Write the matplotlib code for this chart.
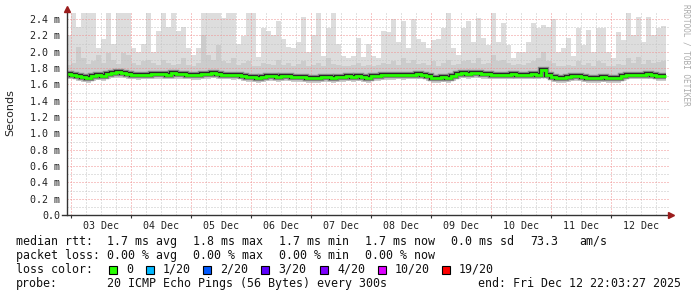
import numpy as np
import matplotlib.pyplot as plt

# 2-hour bins, last one ends at Dec 12 22:03 (hours counted from Dec 3 00:00)
bin_hours = 2.0
end_hour = 238.05

# median rtt per bin (ms)
med = [1.73, 1.72, 1.70, 1.69, 1.68, 1.70, 1.71, 1.70, 1.73, 1.74,
       1.75, 1.74, 1.73, 1.72, 1.71, 1.72, 1.72, 1.73, 1.73, 1.73,
       1.72, 1.74, 1.73, 1.73, 1.72, 1.71, 1.71, 1.73, 1.73, 1.74,
       1.73, 1.72, 1.72, 1.71, 1.72, 1.70, 1.69, 1.69, 1.68, 1.69,
       1.70, 1.70, 1.69, 1.70, 1.70, 1.69, 1.69, 1.69, 1.68, 1.68,
       1.68, 1.69, 1.69, 1.68, 1.69, 1.69, 1.70, 1.69, 1.70, 1.69,
       1.68, 1.70, 1.70, 1.71, 1.71, 1.71, 1.72, 1.71, 1.72, 1.72,
       1.73, 1.72, 1.70, 1.68, 1.68, 1.69, 1.68, 1.70, 1.73, 1.74,
       1.73, 1.74, 1.74, 1.73, 1.73, 1.72, 1.72, 1.72, 1.72, 1.73,
       1.72, 1.72, 1.72, 1.73, 1.72, 1.78, 1.72, 1.69, 1.68, 1.68,
       1.69, 1.70, 1.70, 1.69, 1.68, 1.68, 1.68, 1.69, 1.68, 1.68,
       1.68, 1.70, 1.72, 1.72, 1.72, 1.72, 1.73, 1.72, 1.70, 1.70]

# highest ping per bin (outer smoke)
top = [2.20, 2.55, 2.30, 2.55, 2.55, 2.55, 2.05, 2.15, 2.55, 2.10,
       2.55, 2.55, 2.55, 2.05, 2.00, 2.10, 2.55, 2.00, 2.25, 2.55,
       2.30, 2.55, 2.25, 2.30, 2.05, 1.96, 2.05, 2.55, 2.55, 2.55,
       2.55, 2.41, 2.55, 2.55, 2.09, 2.19, 2.55, 2.55, 1.94, 2.29,
       2.25, 2.20, 2.37, 2.15, 2.06, 2.04, 2.12, 2.43, 2.00, 2.20,
       2.55, 1.95, 2.29, 2.55, 2.10, 1.95, 1.92, 1.95, 2.17, 1.94,
       2.10, 1.95, 1.92, 2.25, 2.24, 2.40, 2.12, 2.37, 2.05, 2.40,
       2.15, 2.12, 2.05, 2.14, 2.15, 2.29, 2.55, 2.05, 1.96, 2.29,
       2.37, 2.12, 2.41, 2.17, 2.08, 2.55, 2.12, 2.35, 2.08, 1.92,
       2.00, 2.00, 2.12, 2.35, 2.29, 2.33, 2.30, 2.40, 2.00, 2.05,
       2.17, 1.95, 2.29, 2.08, 2.27, 2.00, 2.29, 2.29, 2.00, 1.92,
       2.24, 2.14, 2.55, 2.21, 2.43, 2.12, 2.43, 2.21, 2.29, 2.31]

# upper edge of the denser inner smoke
mid = [1.84, 1.86, 2.06, 1.92, 1.85, 1.88, 1.96, 1.86, 1.98, 1.90,
       1.85, 1.98, 1.96, 1.86, 1.84, 1.88, 1.90, 1.86, 1.84, 1.90,
       1.86, 1.84, 1.85, 1.92, 1.84, 1.82, 1.86, 2.20, 1.96, 1.90,
       2.08, 1.88, 1.86, 1.92, 1.84, 1.86, 1.88, 1.83, 1.82, 1.86,
       1.85, 1.84, 1.90, 1.84, 1.86, 1.83, 1.85, 1.88, 1.82, 1.84,
       1.86, 1.83, 1.92, 1.85, 1.84, 1.82, 1.83, 1.84, 1.86, 1.82,
       1.84, 1.83, 1.84, 1.86, 1.85, 1.88, 1.84, 1.92, 1.86, 1.90,
       1.85, 1.86, 1.84, 1.88, 1.83, 1.86, 1.90, 1.84, 1.85, 1.88,
       1.90, 1.86, 1.92, 1.85, 1.86, 1.96, 1.88, 1.90, 1.86, 1.84,
       1.85, 1.84, 1.86, 1.88, 1.92, 2.00, 1.88, 1.86, 1.82, 1.83,
       1.84, 1.82, 1.88, 1.84, 1.86, 1.83, 1.88, 1.86, 1.83, 1.82,
       1.85, 1.84, 1.92, 1.86, 1.94, 1.85, 1.90, 1.86, 1.87, 1.88]

# lowest ping per bin
low = [1.67, 1.66, 1.64, 1.63, 1.62, 1.64, 1.65, 1.64, 1.67, 1.68,
       1.68, 1.68, 1.67, 1.66, 1.65, 1.66, 1.66, 1.67, 1.67, 1.67,
       1.66, 1.67, 1.67, 1.67, 1.66, 1.65, 1.65, 1.67, 1.67, 1.68,
       1.67, 1.66, 1.66, 1.65, 1.66, 1.64, 1.63, 1.63, 1.62, 1.63,
       1.64, 1.64, 1.63, 1.64, 1.64, 1.63, 1.63, 1.63, 1.62, 1.62,
       1.62, 1.63, 1.63, 1.62, 1.63, 1.63, 1.64, 1.63, 1.64, 1.63,
       1.62, 1.64, 1.64, 1.65, 1.65, 1.65, 1.66, 1.65, 1.66, 1.66,
       1.67, 1.66, 1.64, 1.62, 1.62, 1.63, 1.62, 1.64, 1.67, 1.68,
       1.67, 1.68, 1.68, 1.67, 1.67, 1.66, 1.66, 1.66, 1.66, 1.67,
       1.66, 1.66, 1.66, 1.67, 1.66, 1.69, 1.66, 1.63, 1.62, 1.62,
       1.63, 1.64, 1.64, 1.63, 1.62, 1.62, 1.62, 1.63, 1.62, 1.62,
       1.62, 1.64, 1.66, 1.66, 1.66, 1.66, 1.67, 1.66, 1.64, 1.64]

day_labels = ['03 Dec', '04 Dec', '05 Dec', '06 Dec', '07 Dec',
              '08 Dec', '09 Dec', '10 Dec', '11 Dec', '12 Dec']
y_ticks = [0.0, 0.2, 0.4, 0.6, 0.8, 1.0, 1.2, 1.4, 1.6, 1.8, 2.0, 2.2, 2.4]

loss_names = ['0', '1/20', '2/20', '3/20', '4/20', '10/20', '19/20']
loss_colors = ['#26ff00', '#00b8ff', '#0059ff', '#5e00ff', '#7e00ff', '#dd00ff', '#ff0000']

W, H = 697, 297
MONO = 'DejaVu Sans Mono'


def hx(p):
    # pixel column -> hours since Dec 3 00:00
    return (p - 70.7) / 2.5


fig = plt.figure(figsize=(W / 100, H / 100), dpi=100)
fig.patch.set_facecolor('white')
ax = fig.add_axes([67 / W, (H - 215) / H, 602 / W, (215 - 13.3) / H])
ax.set_xlim(hx(67), hx(669))
ax.set_ylim(0, 2.47)

n = len(med)
edges = end_hour - bin_hours * n + bin_hours * np.arange(n + 1)

# smoke
ax.stairs(top, edges, baseline=low, fill=True, color='#dddddd', lw=0, zorder=1)
ax.stairs(mid, edges, baseline=low, fill=True, color='#cccccc', lw=0, zorder=1.1)

# grid
for h in range(0, 240, 6):
    major = h % 24 == 0
    ax.axvline(h, color='#f09090' if major else '#c4c4c4', lw=0.72,
               ls=(0, (1, 2)), zorder=2)
for i in range(1, 25):
    major = i % 2 == 0
    ax.axhline(i / 10, color='#f09090' if major else '#c4c4c4', lw=0.72,
               ls=(0, (1, 2)), zorder=2)

# median line
ax.stairs(med, edges, baseline=None, color='#8a8a8a', lw=4.6, zorder=3)
ax.stairs(med, edges, baseline=None, color='#2a2a2a', lw=3.0, zorder=3.1)
ax.stairs(med, edges, baseline=None, color=loss_colors[0], lw=2.0, zorder=3.2)

# axes lines and arrows
for s in ['top', 'right', 'bottom', 'left']:
    ax.spines[s].set_visible(False)
ax.plot([hx(67), hx(67)], [0, 2.52], color='#333333', lw=1, clip_on=False, zorder=4)
ax.plot([hx(62), hx(669)], [0, 0], color='#333333', lw=1, clip_on=False, zorder=4)
ax.plot(hx(67), 2.52, marker='^', ms=4.5, color='#9b1c1c', clip_on=False, zorder=5)
ax.plot(hx(671), 0, marker='>', ms=4.5, color='#9b1c1c', clip_on=False, zorder=5)

ax.set_yticks(y_ticks)
ax.set_yticklabels(['0.0'] + ['%.1f m' % v for v in y_ticks[1:]],
                   family=MONO, fontsize=7.2, color='#222222')
ax.tick_params(axis='y', length=0, pad=5)

ax.set_xticks([24 * d for d in range(10)])
ax.set_xticklabels([])
ax.tick_params(axis='x', which='major', length=2, color='#333333')
ax.set_xticks([12 + 24 * d for d in range(10)], minor=True)
ax.set_xticklabels(day_labels, minor=True, family=MONO, fontsize=7.2, color='#222222')
ax.tick_params(axis='x', which='minor', length=0, pad=4)

fig.text(10 / W, 1 - 113 / H, 'Seconds', rotation=90, ha='center', va='center',
         fontsize=8, color='#222222')
fig.text(686 / W, 1 - 4 / H, 'RRDTOOL / TOBI OETIKER', rotation=270, ha='center',
         va='top', fontsize=5.6, family=MONO, color='#aaaaaa')


def row(y, items):
    for x, s in items:
        fig.text(x / W, 1 - y / H, s, ha='left', va='center', family=MONO,
                 fontsize=8.4, color='#111111')


row(241.5, [(16, 'median rtt:'), (107, '1.7 ms avg'), (193, '1.8 ms max'),
            (279, '1.7 ms min'), (365, '1.7 ms now'), (451, '0.0 ms sd'),
            (530, '73.3'), (579, 'am/s')])
row(255.5, [(16, 'packet loss:'), (107, '0.00 % avg'), (193, '0.00 % max'),
            (279, '0.00 % min'), (365, '0.00 % now')])
row(269.5, [(16, 'loss color:')])
row(283.5, [(16, 'probe:'), (107, '20 ICMP Echo Pings (56 Bytes) every 300s'),
            (478, 'end: Fri Dec 12 22:03:27 2025')])

box_x = [109, 146, 203, 261, 320, 378, 442]
for bx, name, c in zip(box_x, loss_names, loss_colors):
    fig.patches.append(plt.Rectangle((bx / W, 1 - 274 / H), 8 / W, 8 / H,
                                     transform=fig.transFigure, facecolor=c,
                                     edgecolor='black', lw=0.8))
    fig.text((bx + 17) / W, 1 - 269.5 / H, name, ha='left', va='center',
             family=MONO, fontsize=8.4, color='#111111')

fig.savefig('out.png', dpi=100)
